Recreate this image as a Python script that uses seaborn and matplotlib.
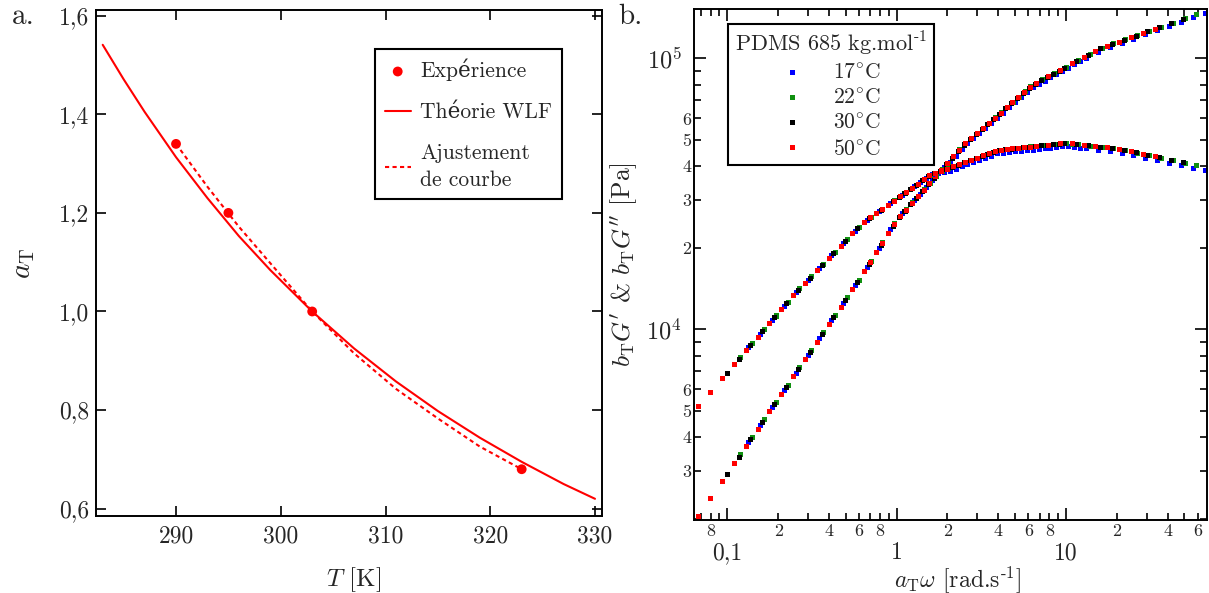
import numpy as np
import pandas as pd
import matplotlib
matplotlib.use("Agg")
import matplotlib.pyplot as plt
import seaborn as sns
from matplotlib.lines import Line2D
from matplotlib.ticker import LogLocator, FuncFormatter, MultipleLocator

# ---------------- panel a : shift factor a_T versus temperature
T_exp = [290, 295, 303, 323]
aT_exp = [1.34, 1.20, 1.00, 0.68]

T_wlf = [283, 285, 287, 290, 293, 296, 299, 303, 307, 311, 315, 319, 323, 327, 330]
aT_wlf = [1.541, 1.471, 1.405, 1.313, 1.230, 1.153, 1.084, 1.000, 0.925, 0.858,
          0.798, 0.744, 0.695, 0.650, 0.620]

T_fit = [290, 293, 296, 299, 303, 307, 311, 315, 319, 323]
aT_fit = [1.340, 1.253, 1.172, 1.098, 1.000, 0.915, 0.843, 0.783, 0.726, 0.680]

# ---------------- panel b : master curves (shifted frequency a_T * omega)
temps = ["17", "22", "30", "50"]
aT_temp = [1.34, 1.20, 1.00, 0.68]
colors = ["#0000ff", "#109010", "#000000", "#ff0000"]

omega = [0.100, 0.1175, 0.138, 0.162, 0.191, 0.224, 0.263, 0.309, 0.363, 0.427,
         0.501, 0.589, 0.692, 0.813, 0.955,
         1.035, 1.122, 1.216, 1.318, 1.429, 1.549, 1.679, 1.820, 1.972, 2.138,
         2.317, 2.512, 2.723, 2.951, 3.199, 3.467, 3.758, 4.074, 4.416, 4.786,
         5.188, 5.623, 6.095, 6.607, 7.161, 7.762, 8.414, 9.120, 9.886,
         11.61, 13.65, 16.03, 18.84, 22.13, 26.00, 30.55, 35.89, 42.17, 49.55]

# log10 of b_T G' and b_T G'' [Pa]
logGp_17 = [3.581, 3.645, 3.710, 3.774, 3.838, 3.903, 3.967, 4.032, 4.096, 4.160,
            4.227, 4.297, 4.367, 4.426, 4.475,
            4.499, 4.524, 4.548, 4.573, 4.597, 4.614, 4.638, 4.663, 4.684, 4.703,
            4.722, 4.741, 4.760, 4.779, 4.798, 4.818, 4.837, 4.856, 4.875, 4.892,
            4.904, 4.916, 4.928, 4.940, 4.952, 4.964, 4.976, 4.988, 4.999,
            5.023, 5.040, 5.055, 5.071, 5.086, 5.102, 5.117, 5.133, 5.149, 5.164]
logGpp_17 = [3.931, 3.982, 4.033, 4.084, 4.135, 4.180, 4.226, 4.271, 4.317, 4.362,
             4.402, 4.433, 4.464, 4.495, 4.527,
             4.542, 4.558, 4.571, 4.576, 4.580, 4.584, 4.591, 4.599, 4.607, 4.615,
             4.623, 4.631, 4.639, 4.647, 4.650, 4.652, 4.655, 4.657, 4.659, 4.661,
             4.663, 4.666, 4.668, 4.670, 4.673, 4.673, 4.671, 4.668, 4.666,
             4.661, 4.656, 4.650, 4.641, 4.632, 4.623, 4.613, 4.604, 4.595, 4.586]

logGp_22 = [3.537, 3.601, 3.666, 3.730, 3.794, 3.859, 3.923, 3.988, 4.052, 4.116,
            4.181, 4.249, 4.319, 4.389, 4.441,
            4.466, 4.490, 4.515, 4.539, 4.564, 4.588, 4.613, 4.637, 4.662, 4.685,
            4.704, 4.723, 4.742, 4.761, 4.780, 4.799, 4.818, 4.838, 4.857, 4.876,
            4.895, 4.908, 4.920, 4.932, 4.944, 4.955, 4.967, 4.979, 4.991,
            5.015, 5.037, 5.053, 5.068, 5.084, 5.099, 5.115, 5.130, 5.146, 5.161]
logGpp_22 = [3.896, 3.947, 3.998, 4.049, 4.100, 4.149, 4.194, 4.240, 4.285, 4.331,
             4.376, 4.412, 4.443, 4.474, 4.505,
             4.521, 4.536, 4.552, 4.568, 4.576, 4.584, 4.592, 4.600, 4.608, 4.616,
             4.624, 4.632, 4.640, 4.648, 4.656, 4.661, 4.664, 4.666, 4.668, 4.670,
             4.673, 4.675, 4.677, 4.679, 4.682, 4.684, 4.686, 4.683, 4.681,
             4.676, 4.672, 4.667, 4.659, 4.650, 4.641, 4.632, 4.623, 4.613, 4.604]

logGp_30 = [3.464, 3.528, 3.593, 3.657, 3.722, 3.786, 3.850, 3.915, 3.979, 4.044,
            4.108, 4.172, 4.240, 4.310, 4.380,
            4.411, 4.435, 4.460, 4.484, 4.509, 4.533, 4.558, 4.582, 4.607, 4.631,
            4.656, 4.680, 4.699, 4.718, 4.737, 4.756, 4.775, 4.794, 4.814, 4.833,
            4.852, 4.871, 4.890, 4.905, 4.917, 4.929, 4.941, 4.952, 4.964,
            4.988, 5.012, 5.035, 5.051, 5.066, 5.082, 5.097, 5.113, 5.128, 5.144]
logGpp_30 = [3.838, 3.889, 3.940, 3.991, 4.042, 4.094, 4.143, 4.189, 4.234, 4.280,
             4.325, 4.371, 4.408, 4.439, 4.470,
             4.486, 4.501, 4.517, 4.532, 4.548, 4.564, 4.574, 4.582, 4.590, 4.598,
             4.606, 4.614, 4.622, 4.630, 4.638, 4.646, 4.654, 4.661, 4.663, 4.665,
             4.667, 4.670, 4.672, 4.674, 4.677, 4.679, 4.681, 4.683, 4.686,
             4.682, 4.677, 4.672, 4.668, 4.660, 4.651, 4.642, 4.633, 4.624, 4.615]

logGp_50 = [3.309, 3.374, 3.438, 3.503, 3.567, 3.631, 3.696, 3.760, 3.825, 3.889,
            3.953, 4.018, 4.082, 4.147, 4.212,
            4.247, 4.282, 4.317, 4.352, 4.387, 4.415, 4.440, 4.464, 4.489, 4.513,
            4.538, 4.562, 4.587, 4.611, 4.636, 4.660, 4.684, 4.703, 4.722, 4.741,
            4.760, 4.779, 4.798, 4.817, 4.836, 4.855, 4.875, 4.894, 4.907,
            4.931, 4.955, 4.979, 5.002, 5.026, 5.044, 5.060, 5.076, 5.091, 5.107]
logGpp_50 = [3.715, 3.766, 3.818, 3.869, 3.920, 3.971, 4.022, 4.073, 4.124, 4.170,
             4.216, 4.261, 4.307, 4.352, 4.395,
             4.411, 4.426, 4.442, 4.458, 4.473, 4.489, 4.504, 4.520, 4.536, 4.551,
             4.567, 4.575, 4.583, 4.591, 4.600, 4.608, 4.616, 4.624, 4.632, 4.640,
             4.648, 4.656, 4.661, 4.663, 4.666, 4.668, 4.670, 4.672, 4.675,
             4.679, 4.684, 4.684, 4.679, 4.674, 4.669, 4.664, 4.655, 4.646, 4.636]

logGp = [logGp_17, logGp_22, logGp_30, logGp_50]
logGpp = [logGpp_17, logGpp_22, logGpp_30, logGpp_50]

# ---------------- style
sns.set_style("ticks")
plt.rcParams["font.family"] = ["cmr10", "DejaVu Serif"]
plt.rcParams["mathtext.fontset"] = "cm"
plt.rcParams["axes.unicode_minus"] = False
plt.rcParams["axes.linewidth"] = 1.4
plt.rcParams["axes.edgecolor"] = "black"

fig = plt.figure(figsize=(12.09, 5.93), dpi=100)
W, H = 1209, 593
axa = fig.add_axes([96 / W, (H - 516) / H, (601.7 - 96) / W, (516 - 10) / H])
axb = fig.add_axes([694.3 / W, (H - 520) / H, (1207 - 694.3) / W, (520 - 9) / H])

# ---------------- panel a
sns.lineplot(x=T_wlf, y=aT_wlf, ax=axa, color="red", lw=1.5, label="Théorie WLF")
sns.lineplot(x=T_fit, y=aT_fit, ax=axa, color="red", lw=1.5,
             linestyle=(0, (2, 1.6)), label="Ajustement\nde courbe")
sns.scatterplot(x=T_exp, y=aT_exp, ax=axa, color="red", s=50, edgecolor="none",
                zorder=3, label="Expérience")

axa.set_xlim(282.36, 330.64)
axa.set_ylim(0.5851, 1.6116)
axa.xaxis.set_major_locator(MultipleLocator(10))
axa.yaxis.set_major_locator(MultipleLocator(0.2))
axa.xaxis.set_major_formatter(FuncFormatter(lambda v, p: f"{v:.0f}"))
axa.yaxis.set_major_formatter(FuncFormatter(lambda v, p: f"{v:.1f}".replace(".", ",")))
axa.tick_params(which="major", direction="in", top=True, right=True, length=7,
                width=1.2, labelsize=17, color="black")
axa.tick_params(axis="x", pad=7)
axa.tick_params(axis="y", pad=5)
axa.set_xlabel("$T$ [K]", fontsize=18)
axa.set_ylabel(r"$a_\mathrm{T}$", fontsize=21)
axa.xaxis.set_label_coords(0.51, -0.097)
axa.yaxis.set_label_coords(-0.117, 0.5)

h, l = axa.get_legend_handles_labels()
order = [l.index("Expérience"), l.index("Théorie WLF"), l.index("Ajustement\nde courbe")]
leg = axa.legend([h[i] for i in order], [l[i] for i in order], loc="upper right",
                 bbox_to_anchor=(0.9215, 0.923), borderaxespad=0, fontsize=15.5,
                 frameon=True, fancybox=False, framealpha=1, edgecolor="black",
                 handlelength=1.2, handletextpad=0.45, labelspacing=1.0,
                 borderpad=0.45)
leg.get_frame().set_linewidth(1.5)
for t in leg.get_texts():
    t.set_linespacing(1.45)

# ---------------- panel b
frames = []
for t, a, gp, gpp in zip(temps, aT_temp, logGp, logGpp):
    frames.append(pd.DataFrame({
        "temp": t,
        "freq": np.array(omega) * a,
        "Gp": 10 ** np.array(gp),
        "Gpp": 10 ** np.array(gpp),
    }))
df = pd.concat(frames, ignore_index=True)
pal = dict(zip(temps, colors))

for col in ["Gp", "Gpp"]:
    sns.scatterplot(data=df, x="freq", y=col, hue="temp", hue_order=temps,
                    palette=pal, marker="s", s=13, linewidth=0, legend=False,
                    ax=axb)

axb.set_xscale("log")
axb.set_yscale("log")
axb.set_xlim(0.0639, 68.2)
axb.set_ylim(1978, 1.52e5)

major_x = {0.1: "0,1", 1.0: "1", 10.0: "10"}


def fmt_xmajor(v, pos):
    for k, s in major_x.items():
        if abs(v - k) < 1e-6 * k:
            return s
    return ""


def fmt_xminor(v, pos):
    d = int(round(v / 10 ** np.floor(np.log10(v) + 1e-9)))
    return str(d) if d in (2, 4, 6, 8) else ""


def fmt_ymajor(v, pos):
    return r"$10^{%d}$" % int(round(np.log10(v)))


def fmt_yminor(v, pos):
    d = int(round(v / 10 ** np.floor(np.log10(v) + 1e-9)))
    if v < 2500:
        return ""
    return str(d) if d in (2, 3, 4, 5, 6) else ""


axb.xaxis.set_major_locator(LogLocator(base=10, numticks=20))
axb.xaxis.set_minor_locator(LogLocator(base=10, subs=np.arange(2, 10), numticks=20))
axb.yaxis.set_major_locator(LogLocator(base=10, numticks=20))
axb.yaxis.set_minor_locator(LogLocator(base=10, subs=np.arange(2, 10), numticks=20))
axb.xaxis.set_major_formatter(FuncFormatter(fmt_xmajor))
axb.xaxis.set_minor_formatter(FuncFormatter(fmt_xminor))
axb.yaxis.set_major_formatter(FuncFormatter(fmt_ymajor))
axb.yaxis.set_minor_formatter(FuncFormatter(fmt_yminor))

axb.tick_params(which="both", direction="in", top=True, right=True, width=1.2,
                color="black")
axb.tick_params(which="major", length=8.5)
axb.tick_params(which="minor", length=5)
axb.tick_params(axis="x", which="major", pad=16, labelsize=17)
axb.tick_params(axis="x", which="minor", pad=3, labelsize=13)
axb.tick_params(axis="y", which="major", pad=9, labelsize=17.5)
axb.tick_params(axis="y", which="minor", pad=2, labelsize=13)

axb.set_xlabel(r"$a_\mathrm{T}\omega$ [rad.s$^{\text{-1}}$]", fontsize=17)
axb.set_ylabel(r"$b_\mathrm{T}G'$ & $b_\mathrm{T}G''$ [Pa]", fontsize=18.5)
axb.xaxis.set_label_coords(0.514, -0.087)
axb.yaxis.set_label_coords(-0.105, 0.5)

hb = [Line2D([], [], marker="s", ls="none", color=c, markersize=3.6,
             markeredgewidth=0) for c in colors]
lb = [t + r"$^{\circ}$C" for t in temps]
legb = axb.legend(hb, lb, title=r"PDMS 685 kg.mol$^{\text{-1}}$", loc="upper left",
                  bbox_to_anchor=(0.0665, 0.9706), borderaxespad=0, fontsize=15.5,
                  title_fontsize=16, frameon=True, fancybox=False, framealpha=1,
                  edgecolor="black", handlelength=1.0, handletextpad=1.4,
                  labelspacing=0.25, borderpad=0.3)
legb.get_frame().set_linewidth(1.5)

fig.text(12 / W, 1 - 17 / H, "a.", fontsize=21, ha="left", va="center")
fig.text(618 / W, 1 - 17 / H, "b.", fontsize=21, ha="left", va="center")

fig.savefig("out.png", dpi=100)
